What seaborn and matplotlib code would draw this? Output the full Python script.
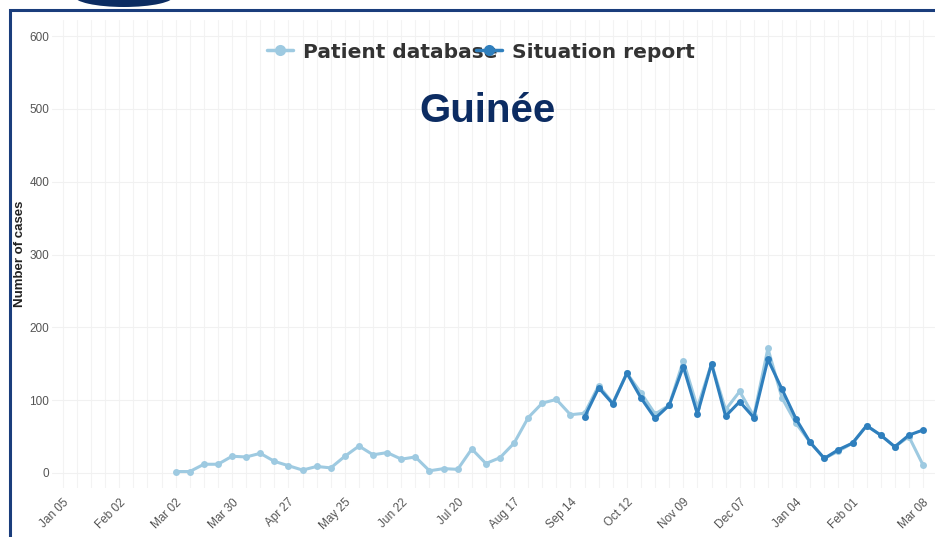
import numpy as np
import pandas as pd
import matplotlib
matplotlib.use("Agg")
import matplotlib.pyplot as plt
from matplotlib.patches import Rectangle, Ellipse
import seaborn as sns

# ---- data (weeks counted from Jan 05, 2014) ----
tick_weeks = [0, 4, 8, 12, 16, 20, 24, 28, 32, 36, 40, 44, 48, 52, 56, 61]
tick_labels = ["Jan 05", "Feb 02", "Mar 02", "Mar 30", "Apr 27", "May 25", "Jun 22",
               "Jul 20", "Aug 17", "Sep 14", "Oct 12", "Nov 09", "Dec 07", "Jan 04",
               "Feb 01", "Mar 08"]

patient_weeks = list(range(8, 62))
patient_values = [2, 2, 12, 12, 23, 22, 27, 16, 10, 4, 9, 7, 23, 37, 25, 28, 19, 22, 3, 6, 5, 33,
                  13, 21, 41, 76, 96, 101, 80,
                  82, 120, 96, 137, 110, 81, 93, 154, 90, 150, 87, 112, 78, 171, 103, 68,
                  42, 20, 30, 41, 65, 52, 36, 50, 11]

sitrep_weeks = list(range(37, 62))
sitrep_values = [77, 117, 95, 137, 103, 75, 93, 146, 81, 150, 78, 98, 76, 156, 115, 74,
                 42, 20, 32, 41, 65, 52, 36, 52, 59]

series_names = ["Patient database", "Situation report"]
colors = ["#9ecae1", "#2f7fbd"]

df = pd.concat([
    pd.DataFrame({"week": patient_weeks, "cases": patient_values, "source": series_names[0]}),
    pd.DataFrame({"week": sitrep_weeks, "cases": sitrep_values, "source": series_names[1]}),
])

sns.set_theme(style="white")
plt.rcParams["font.family"] = ["Liberation Sans", "DejaVu Sans"]

fig = plt.figure(figsize=(9.35, 5.37), dpi=100)
ax = fig.add_axes([52 / 935, 49 / 537, 1 - 52 / 935, 468 / 537])

sns.lineplot(data=df, x="week", y="cases", hue="source", hue_order=series_names,
             palette=colors, marker="o", markersize=5, markeredgewidth=0,
             linewidth=2.2, ax=ax, legend=True)

ax.set_xlim(-0.77, 61.85)
ax.set_ylim(-20.6, 622)
ax.set_yticks([0, 100, 200, 300, 400, 500, 600])
ax.set_xticks(tick_weeks)
ax.set_xticklabels(tick_labels, rotation=45, ha="right", rotation_mode="anchor",
                   fontsize=8.5, color="#555555")
ax.set_xticks(np.arange(0, 62, 1), minor=True)
for lab in ax.get_yticklabels():
    lab.set_fontsize(8.5)
    lab.set_color("#555555")
ax.tick_params(axis="x", length=0, pad=6)
ax.tick_params(axis="y", length=0, pad=2)
ax.grid(True, which="both", axis="x", color="#f3f3f3", linewidth=0.8)
ax.grid(True, which="major", axis="y", color="#f1f1f1", linewidth=0.8)
for s in ax.spines.values():
    s.set_visible(False)

ax.set_xlabel("")
ax.set_ylabel("Number of cases", fontsize=9.5, fontweight="bold", color="#222222")
ax.yaxis.set_label_coords((26 - 52) / 883, 0.5)

leg = ax.legend(loc="center", bbox_to_anchor=((481 - 52) / 883, (488 - 52) / 468), ncol=2,
                frameon=False, prop={"family": "DejaVu Sans", "weight": "bold", "size": 14.5},
                handlelength=1.3, handletextpad=0.5, columnspacing=-1.1, labelcolor="#333333")
for h in leg.get_lines():
    h.set_linewidth(2.5)
    h.set_markersize(8)

ax.text((487.5 - 52) / 883, (488 - 122) / 468,
        "Guinée", transform=ax.transAxes, ha="center", va="baseline",
        fontsize=29, fontweight="bold", color="#0c2c62")

# slide frame decoration
fig.add_artist(Rectangle((10 / 935, -0.1), 1.2, 1 - 10 / 537 + 0.1, transform=fig.transFigure,
                         fill=False, edgecolor="#1a3d7c", linewidth=2.2))
fig.add_artist(Ellipse((124 / 935, 1 + 4 / 537), 100 / 935, 22 / 537, transform=fig.transFigure,
                       facecolor="#0c2c62", edgecolor="none"))

fig.savefig("out.png", dpi=100)
